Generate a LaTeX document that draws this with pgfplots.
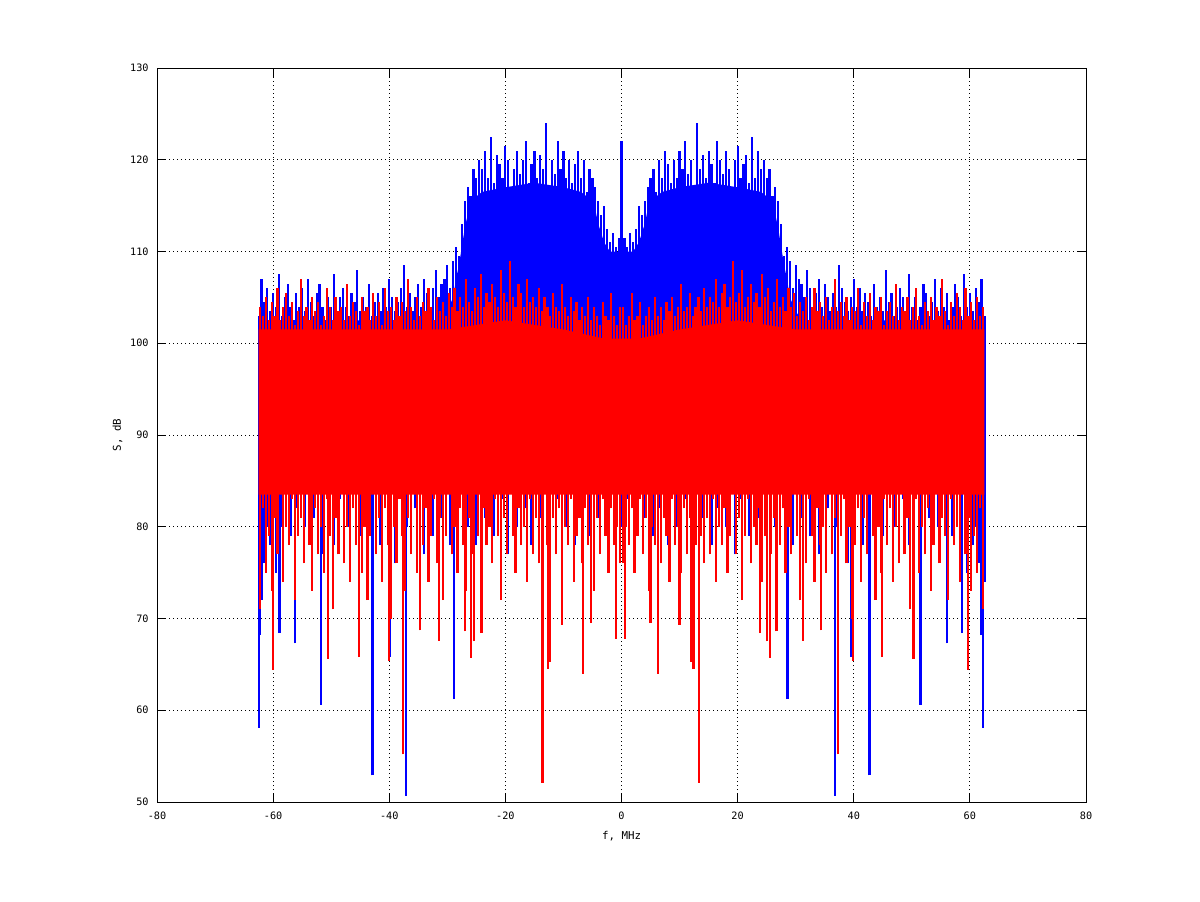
\documentclass[border=0pt]{standalone}
\usepackage{fontspec}
\setmainfont{DejaVu Sans Mono}
\usepackage{pgfplots}
\usepackage{pgfplotstable}
\pgfplotsset{compat=1.18}

\pgfplotstableread{
x hi lo
-62.5 103 74
-62.0 107 72
-61.5 104.5 76
-61.0 106 80
-60.5 103.5 78
-60.0 105.5 87
-59.5 104 75
-59.0 107.5 87
-58.5 103 80
-58.0 105 87
-57.5 106.5 87
-57.0 104 79
-56.5 102.5 87
-56.0 105.5 82
-55.5 104 87
-55.0 106 87
-54.5 103.5 80
-54.0 107 87
-53.5 104.5 87
-53.0 103 81
-52.5 105.5 87
-52.0 106.5 87
-51.5 104 77
-51.0 102.5 87
-50.5 105 87
-50.0 104 87
-49.5 107.5 78
-49.0 103.5 87
-48.5 105 83
-48.0 106 87
-47.5 104 87
-47.0 103 80
-46.5 105.5 87
-46.0 104.5 87
-45.5 108 87
-45.0 103.5 79
-44.5 105 87
-44.0 104 87
-43.5 106.5 81
-43.0 103 87
-42.5 104.5 87
-42.0 105.5 87
-41.5 103.5 78
-41.0 106 87
-40.5 104 87
-40.0 107 83
-39.5 105 87
-39.0 103.5 76
-38.5 104.5 87
-38.0 106 87
-37.5 108.5 87
-37.0 104 80
-36.5 105.5 87
-36.0 103.5 87
-35.5 105 82
-35.0 106.5 87
-34.5 104 87
-34.0 107 77
-33.5 105.5 87
-33.0 104 87
-32.5 106 79
-32.0 108 87
-31.5 105 87
-31.0 106.5 81
-30.5 107 87
-30.0 108.5 87
-29.5 106 78
-29.0 109 87
-28.5 110.5 87
-28.0 109.5 82
-27.5 113 87
-27.0 115.5 87
-26.5 117 80
-26.0 116 87
-25.5 119 87
-25.0 118 78
-24.5 120 87
-24.0 119 87
-23.5 121 81
-23.0 118 87
-22.5 122.5 87
-22.0 117.5 79
-21.5 120.5 87
-21.0 119.5 87
-20.5 118 83
-20.0 121.5 87
-19.5 120 77
-19.0 117 87
-18.5 119 87
-18.0 121 80
-17.5 118.5 87
-17.0 120 87
-16.5 122 82
-16.0 117.5 87
-15.5 119.5 78
-15.0 121 87
-14.5 118 87
-14.0 120.5 81
-13.5 119 87
-13.0 124 87
-12.5 117 79
-12.0 120 87
-11.5 118.5 87
-11.0 122 83
-10.5 119 87
-10.0 121 87
-9.5 118 80
-9.0 120 87
-8.5 117.5 87
-8.0 119.5 78
-7.5 121 87
-7.0 118 87
-6.5 120 82
-6.0 116.5 87
-5.5 119 79
-5.0 118 87
-4.5 117 87
-4.0 115.5 81
-3.5 114 87
-3.0 115 87
-2.5 112.5 80
-2.0 111 87
-1.5 112 87
-1.0 110.5 83
-0.5 111.5 87
0.0 122 80
0.5 111.5 87
1.0 110.5 83
1.5 112 87
2.0 111 87
2.5 112.5 80
3.0 115 87
3.5 114 87
4.0 115.5 81
4.5 117 87
5.0 118 87
5.5 119 79
6.0 116.5 87
6.5 120 82
7.0 118 87
7.5 121 87
8.0 119.5 78
8.5 117.5 87
9.0 120 87
9.5 118 80
10.0 121 87
10.5 119 87
11.0 122 83
11.5 118.5 87
12.0 120 87
12.5 117 79
13.0 124 87
13.5 119 87
14.0 120.5 81
14.5 118 87
15.0 121 87
15.5 119.5 78
16.0 117.5 87
16.5 122 82
17.0 120 87
17.5 118.5 87
18.0 121 80
18.5 119 87
19.0 117 87
19.5 120 77
20.0 121.5 87
20.5 118 83
21.0 119.5 87
21.5 120.5 87
22.0 117.5 79
22.5 122.5 87
23.0 118 87
23.5 121 81
24.0 119 87
24.5 120 87
25.0 118 78
25.5 119 87
26.0 116 87
26.5 117 80
27.0 115.5 87
27.5 113 87
28.0 109.5 82
28.5 110.5 87
29.0 109 87
29.5 106 78
30.0 108.5 87
30.5 107 87
31.0 106.5 81
31.5 105 87
32.0 108 87
32.5 106 79
33.0 104 87
33.5 105.5 87
34.0 107 77
34.5 104 87
35.0 106.5 87
35.5 105 82
36.0 103.5 87
36.5 105.5 87
37.0 104 80
37.5 108.5 87
38.0 106 87
38.5 104.5 87
39.0 103.5 76
39.5 105 87
40.0 107 83
40.5 104 87
41.0 106 87
41.5 103.5 78
42.0 105.5 87
42.5 104.5 87
43.0 103 87
43.5 106.5 81
44.0 104 87
44.5 105 87
45.0 103.5 79
45.5 108 87
46.0 104.5 87
46.5 105.5 87
47.0 103 80
47.5 104 87
48.0 106 87
48.5 105 83
49.0 103.5 87
49.5 107.5 78
50.0 104 87
50.5 105 87
51.0 102.5 87
51.5 104 77
52.0 106.5 87
52.5 105.5 87
53.0 103 81
53.5 104.5 87
54.0 107 87
54.5 103.5 80
55.0 106 87
55.5 104 87
56.0 105.5 82
56.5 102.5 87
57.0 104 79
57.5 106.5 87
58.0 105 87
58.5 103 80
59.0 107.5 87
59.5 104 75
60.0 105.5 87
60.5 103.5 78
61.0 106 80
61.5 104.5 76
62.0 107 72
62.5 103 74
-62.4 90 58.1
-62.2 90 68.2
-58.9 90 68.4
-56.2 90 67.3
-51.7 90 60.6
-42.9 90 52.9
-39.9 90 65.8
-37.1 90 50.7
-28.8 90 61.2
28.6 90 61.2
36.8 90 50.7
39.6 90 65.8
42.7 90 52.9
51.5 90 60.6
56.0 90 67.3
58.7 90 68.4
62.0 90 68.2
62.3 90 58.1
}\bluetab

\pgfplotstableread{
x hi lo
-62.25 104 71
-61.75 103 82
-61.25 105 75
-60.75 102.5 79
-60.25 104.5 73
-59.75 103 81
-59.25 106 77
-58.75 102.5 84
-58.25 104 74
-57.75 105.5 80
-57.25 103 78
-56.75 104.5 83
-56.25 102 72
-55.75 103.5 79
-55.25 107 81
-54.75 103 76
-54.25 104 84
-53.75 102.5 78
-53.25 105 73
-52.75 103.5 82
-52.25 104.5 77
-51.75 102 80
-51.25 103 75
-50.75 106 83
-50.25 104 79
-49.75 102.5 71
-49.25 105 81
-48.75 103.5 77
-48.25 104 84
-47.75 102.5 76
-47.25 106.5 80
-46.75 103 74
-46.25 104.5 82
-45.75 103.5 78
-45.25 102 83
-44.75 105 75
-44.25 103.5 80
-43.75 104 72
-43.25 102.5 79
-42.75 105.5 84
-42.25 103 77
-41.75 104.5 81
-41.25 102 74
-40.75 106 82
-40.25 103.5 78
-39.75 104 70
-39.25 102.5 80
-38.75 105 76
-38.25 103 83
-37.75 104.5 79
-37.25 103.5 73
-36.75 107 81
-36.25 104 77
-35.75 102.5 84
-35.25 105 75
-34.75 103 80
-34.25 104.5 78
-33.75 103.5 82
-33.25 106 74
-32.75 104 79
-32.25 102.5 83
-31.75 105 76
-31.25 103.5 81
-30.75 104.5 72
-30.25 103 79
-29.75 105.5 84
-29.25 104 77
-28.75 106 80
-28.25 103.5 75
-27.75 105 82
-27.25 104 78
-26.75 107 73
-26.25 104.5 81
-25.75 103.5 77
-25.25 106 84
-24.75 105 79
-24.25 107.5 74
-23.75 104 82
-23.25 105.5 78
-22.75 104.5 80
-22.25 106.5 76
-21.75 105 83
-21.25 104 79
-20.75 108 72
-20.25 105.5 81
-19.75 104.5 77
-19.25 109 84
-18.75 105 79
-18.25 104 75
-17.75 106.5 82
-17.25 105.5 78
-16.75 104 80
-16.25 107 74
-15.75 104.5 83
-15.25 105 77
-14.75 104 81
-14.25 106 76
-13.75 103.5 79
-13.25 105 84
-12.75 104 78
-12.25 103 73
-11.75 105.5 81
-11.25 104 77
-10.75 103.5 82
-10.25 106.5 75
-9.75 104 80
-9.25 103 78
-8.75 105 83
-8.25 103.5 74
-7.75 104.5 79
-7.25 102.5 81
-6.75 104 76
-6.25 103 82
-5.75 105 78
-5.25 102.5 80
-4.75 104 73
-4.25 103 81
-3.75 102 77
-3.25 104.5 83
-2.75 103 79
-2.25 102.5 75
-1.75 105.5 82
-1.25 103 78
-0.75 102 80
-0.25 104 76
0.25 104 76
0.75 102 80
1.25 103 78
1.75 105.5 82
2.25 102.5 75
2.75 103 79
3.25 104.5 83
3.75 102 77
4.25 103 81
4.75 104 73
5.25 102.5 80
5.75 105 78
6.25 103 82
6.75 104 76
7.25 102.5 81
7.75 104.5 79
8.25 103.5 74
8.75 105 83
9.25 103 78
9.75 104 80
10.25 106.5 75
10.75 103.5 82
11.25 104 77
11.75 105.5 81
12.25 103 73
12.75 104 78
13.25 105 84
13.75 103.5 79
14.25 106 76
14.75 104 81
15.25 105 77
15.75 104.5 83
16.25 107 74
16.75 104 80
17.25 105.5 78
17.75 106.5 82
18.25 104 75
18.75 105 79
19.25 109 84
19.75 104.5 77
20.25 105.5 81
20.75 108 72
21.25 104 79
21.75 105 83
22.25 106.5 76
22.75 104.5 80
23.25 105.5 78
23.75 104 82
24.25 107.5 74
24.75 105 79
25.25 106 84
25.75 103.5 77
26.25 104.5 81
26.75 107 73
27.25 104 78
27.75 105 82
28.25 103.5 75
28.75 106 80
29.25 104 77
29.75 105.5 84
30.25 103 79
30.75 104.5 72
31.25 103.5 81
31.75 105 76
32.25 102.5 83
32.75 104 79
33.25 106 74
33.75 103.5 82
34.25 104.5 78
34.75 103 80
35.25 105 75
35.75 102.5 84
36.25 104 77
36.75 107 81
37.25 103.5 73
37.75 104.5 79
38.25 103 83
38.75 105 76
39.25 102.5 80
39.75 104 70
40.25 103.5 78
40.75 106 82
41.25 102 74
41.75 104.5 81
42.25 103 77
42.75 105.5 84
43.25 102.5 79
43.75 104 72
44.25 103.5 80
44.75 105 75
45.25 102 83
45.75 103.5 78
46.25 104.5 82
46.75 103 74
47.25 106.5 80
47.75 102.5 76
48.25 104 84
48.75 103.5 77
49.25 105 81
49.75 102.5 71
50.25 104 79
50.75 106 83
51.25 103 75
51.75 102 80
52.25 104.5 77
52.75 103.5 82
53.25 105 73
53.75 102.5 78
54.25 104 84
54.75 103 76
55.25 107 81
55.75 103.5 79
56.25 102 72
56.75 104.5 83
57.25 103 78
57.75 105.5 80
58.25 104 74
58.75 102.5 84
59.25 106 77
59.75 103 81
60.25 104.5 73
60.75 102.5 79
61.25 105 75
61.75 103 82
62.25 104 71
-60.0 95 64.4
-50.5 95 65.6
-45.2 95 65.8
-40.0 95 65.4
-37.6 95 55.2
-34.7 95 68.7
-31.5 95 67.6
-26.9 95 68.6
-25.9 95 65.7
-25.4 95 67.5
-24.1 95 68.4
-13.6 95 52.1
-12.6 95 64.5
-12.3 95 65.3
-10.2 95 69.3
-6.7 95 64.0
-5.2 95 69.5
-0.9 95 67.8
0.66 95 67.8
5.0 95 69.5
6.3 95 64.0
10.0 95 69.3
12.0 95 65.3
12.4 95 64.5
13.4 95 52.1
23.9 95 68.4
25.1 95 67.5
25.6 95 65.7
26.7 95 68.6
31.3 95 67.6
34.4 95 68.7
37.3 95 55.2
39.8 95 65.4
44.9 95 65.8
50.3 95 65.6
59.7 95 64.4
}\redtab

\begin{document}
\begin{tikzpicture}
\begin{axis}[
  at={(78.5pt,49.5pt)}, anchor=south west,
  scale only axis, width=464.5pt, height=367pt,
  xmin=-80, xmax=80, ymin=50, ymax=130,
  xtick={-80,-60,-40,-20,0,20,40,60,80},
  xticklabels={-80,-60,-40,-20,0,20,40,60,80},
  ytick={50,60,70,80,90,100,110,120,130},
  yticklabels={50,60,70,80,90,100,110,120,130},
  tick align=inside, tick pos=both,
  xticklabel pos=lower, yticklabel pos=left,
  major tick length=4.5pt,
  every tick/.style={black, line width=0.5pt},
  axis line style={black, line width=0.5pt},
  grid=major,
  grid style={black, line width=0.5pt, dash pattern=on 0.5pt off 1.5pt},
  ticklabel style={font=\fontsize{5.1}{6}\selectfont, inner sep=0pt},
  xticklabel style={anchor=north, yshift=-5pt},
  yticklabel style={anchor=east, xshift=-4pt},
  xlabel={f, MHz}, ylabel={S, dB},
  label style={font=\fontsize{5.4}{6}\selectfont},
  xlabel style={at={(axis description cs:0.5,-0.0463)}, anchor=center},
  ylabel style={at={(axis description cs:-0.0425,0.5)}, anchor=center},
]
% blue core
\addplot[blue, fill=blue, draw=none, forget plot] coordinates {
(-62.5,102.5) (-31,102.5) (-30,103.5) (-29,105) (-28.5,107) (-28,108.5) (-27.5,110.5) (-27,112.5) (-26.5,114) (-26,115) (-25,116) (-24,116.5) (-20,117) (-15,117.5) (-10,117) (-7,116.5) (-5,115.5) (-4.5,114.5) (-4,113) (-3.5,112) (-3,111) (-2.5,110.5) (-2,110) (0,110) (2,110) (2.5,110.5) (3,111) (3.5,112) (4,113) (4.5,114.5) (5,115.5) (7,116.5) (10,117) (15,117.5) (20,117) (24,116.5) (25,116) (26,115) (26.5,114) (27,112.5) (27.5,110.5) (28,108.5) (28.5,107) (29,105) (30,103.5) (31,102.5) (62.5,102.5) (62.5,85) (-62.5,85)
} --cycle;
\addplot[blue, draw=none, forget plot, error bars/.cd, y dir=plus, y explicit, error mark=none,
  error bar style={color=blue, draw=blue, line width=1.1pt}]
  table[x=x, y=lo, y error expr=\thisrow{hi}-\thisrow{lo}] {\bluetab};
% red core
\addplot[red, fill=red, draw=none, forget plot] coordinates {
(-62.5,101.5) (-30,101.5) (-20,102.5) (-10,101.5) (-3,100.5) (0,100.5) (3,100.5) (10,101.5) (20,102.5) (30,101.5) (62.5,101.5) (62.5,83.5) (-62.5,83.5)
} --cycle;
\addplot[red, draw=none, forget plot, error bars/.cd, y dir=plus, y explicit, error mark=none,
  error bar style={color=red, draw=red, line width=1.1pt}]
  table[x=x, y=lo, y error expr=\thisrow{hi}-\thisrow{lo}] {\redtab};
\end{axis}
\pgfresetboundingbox
\path[use as bounding box] (0,0) rectangle (600pt,450.5pt);
\end{tikzpicture}
\end{document}
